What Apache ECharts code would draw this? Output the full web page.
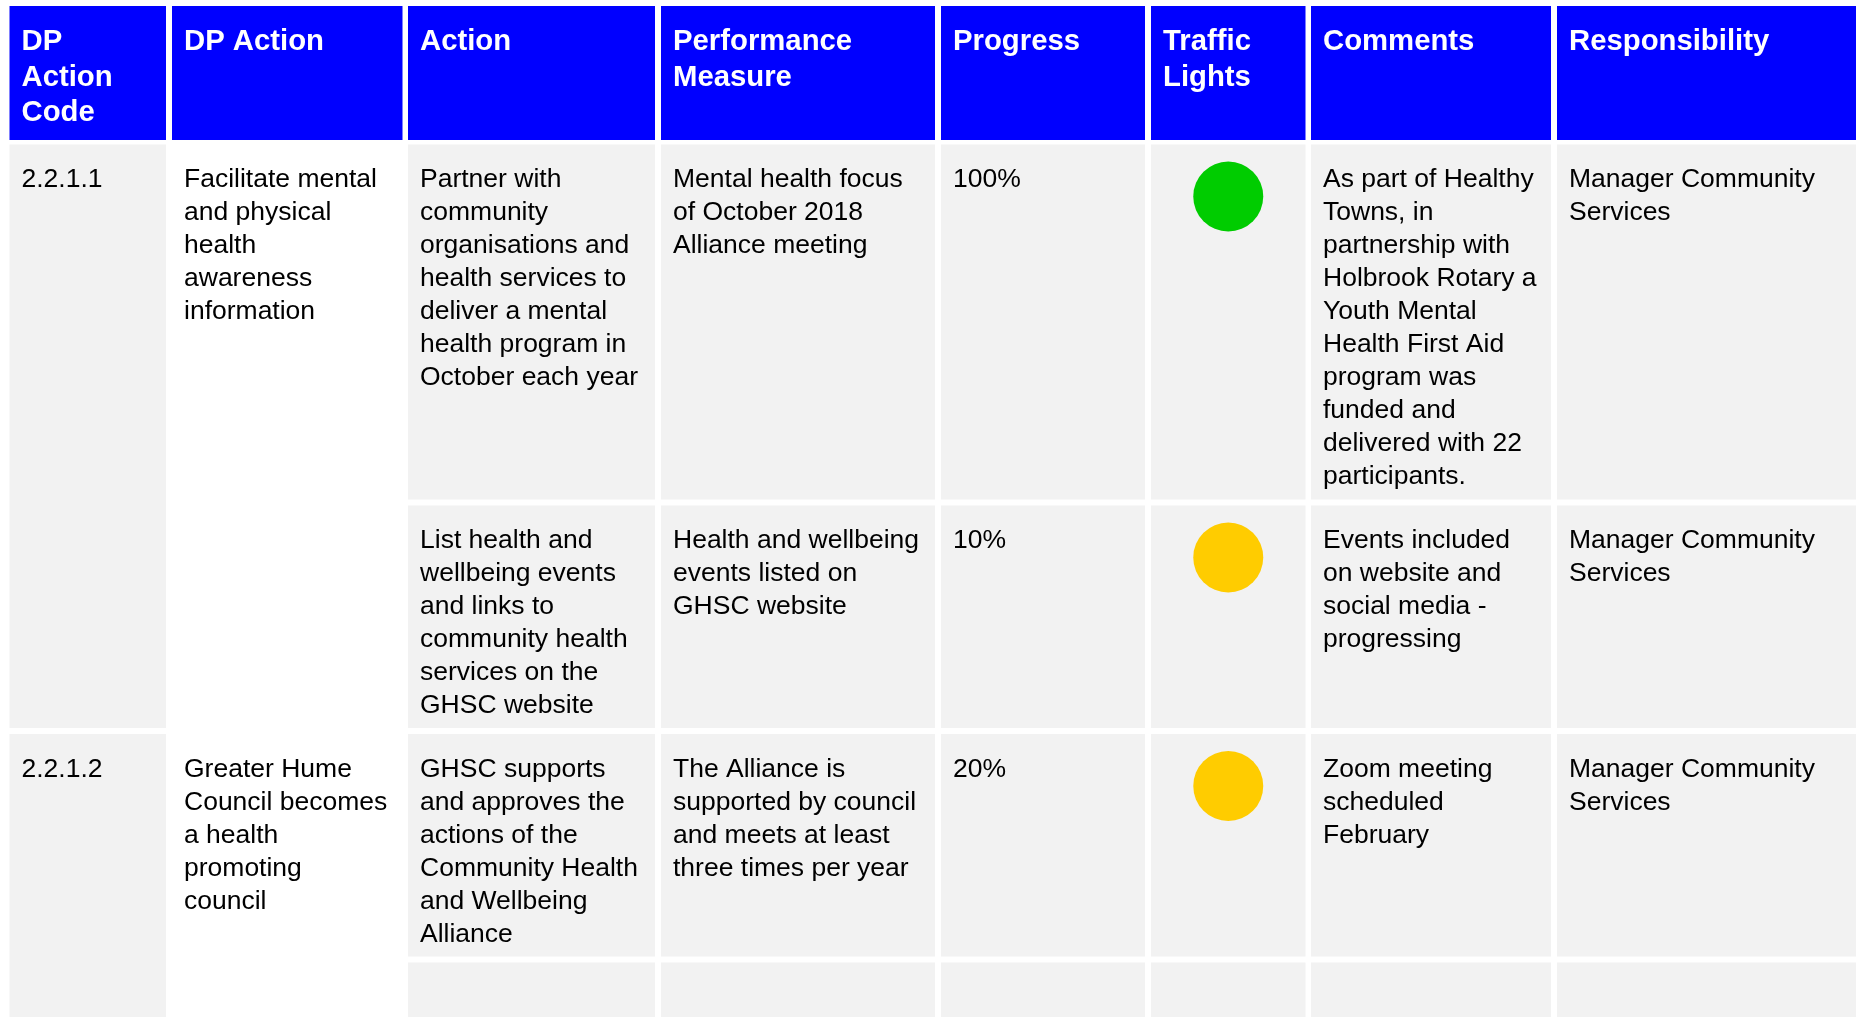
<!DOCTYPE html>
<html>
<head>
<meta charset="utf-8">
<script src="https://cdn.jsdelivr.net/npm/echarts@6/dist/echarts.min.js"></script>
<style>
html,body{margin:0;padding:0;background:#fff;}
#main{width:1856px;height:1017px;}
</style>
</head>
<body>
<div id="main"></div>
<script>
// ---- data ----
const headers = ['DP\nAction\nCode', 'DP Action', 'Action', 'Performance\nMeasure', 'Progress', 'Traffic\nLights', 'Comments', 'Responsibility'];
const codes = ['2.2.1.1', '2.2.1.2'];
const dpActions = ['Facilitate mental\nand physical\nhealth\nawareness\ninformation', 'Greater Hume\nCouncil becomes\na health\npromoting\ncouncil'];
const actions = ['Partner with\ncommunity\norganisations and\nhealth services to\ndeliver a mental\nhealth program in\nOctober each year',
  'List health and\nwellbeing events\nand links to\ncommunity health\nservices on the\nGHSC website',
  'GHSC supports\nand approves the\nactions of the\nCommunity Health\nand Wellbeing\nAlliance', ''];
const measures = ['Mental health focus\nof October 2018\nAlliance meeting', 'Health and wellbeing\nevents listed on\nGHSC website',
  'The Alliance is\nsupported by council\nand meets at least\nthree times per year', ''];
const progress = ['100%', '10%', '20%', ''];
const lights = ['green', 'amber', 'amber', null];
const comments = ['As part of Healthy\nTowns, in\npartnership with\nHolbrook Rotary a\nYouth Mental\nHealth First Aid\nprogram was\nfunded and\ndelivered with 22\nparticipants.',
  'Events included\non website and\nsocial media -\nprogressing', 'Zoom meeting\nscheduled\nFebruary', ''];
const responsibility = ['Manager Community\nServices', 'Manager Community\nServices', 'Manager Community\nServices', ''];
const codeRowSpans = [[0, 1], [2, 3]];

// ---- layout ----
const W = 1856, H = 1017;
const colEdges = [[9.5, 166], [172, 402.5], [408, 655], [661, 935], [941, 1145], [1151, 1305.5], [1311, 1551], [1557, 1856]];
const headerEdge = [6, 140];
const rowEdges = [[144.5, 499.5], [505.5, 728], [734, 956.5], [962.5, 1040]];
const lightColors = { green: '#00cc00', amber: '#ffcc00' };
const FONT = '"Liberation Sans", Arial, Helvetica, sans-serif';

const cells = [];
headers.forEach((h, c) => cells.push({ x0: colEdges[c][0], x1: colEdges[c][1], y0: headerEdge[0], y1: headerEdge[1], text: h, fill: '#0000ff', header: true }));
codes.forEach((code, i) => {
  const [r0, r1] = codeRowSpans[i];
  cells.push({ x0: colEdges[0][0], x1: colEdges[0][1], y0: rowEdges[r0][0], y1: rowEdges[r1][1], text: code, fill: '#f2f2f2' });
  cells.push({ x0: colEdges[1][0], x1: colEdges[1][1], y0: rowEdges[r0][0], y1: rowEdges[r1][1], text: dpActions[i], fill: '#ffffff' });
});
const rowCols = [actions, measures, progress, null, comments, responsibility];
for (let r = 0; r < rowEdges.length; r++) {
  rowCols.forEach((arr, k) => {
    const c = k + 2;
    cells.push({ x0: colEdges[c][0], x1: colEdges[c][1], y0: rowEdges[r][0], y1: rowEdges[r][1], text: arr ? arr[r] : '', fill: '#f2f2f2', light: arr ? null : lights[r] });
  });
}

const chart = echarts.init(document.getElementById('main'), null, { renderer: 'canvas' });
chart.setOption({
  animation: false,
  grid: { left: 0, right: 0, top: 0, bottom: 0 },
  xAxis: { type: 'value', min: 0, max: W, show: false },
  yAxis: { type: 'value', min: 0, max: H, inverse: true, show: false },
  series: [{
    type: 'custom',
    clip: true,
    data: cells.map(c => [c.x0, c.y0, c.x1, c.y1]),
    renderItem: function (params, api) {
      const c = cells[params.dataIndex];
      const p0 = api.coord([api.value(0), api.value(1)]);
      const p1 = api.coord([api.value(2), api.value(3)]);
      const children = [{
        type: 'rect',
        shape: { x: p0[0], y: p0[1], width: p1[0] - p0[0], height: p1[1] - p0[1] },
        style: { fill: c.fill }
      }];
      if (c.text) {
        children.push({
          type: 'text',
          style: c.header ? {
            text: c.text, x: p0[0] + 12, y: p0[1] + 18.5, fill: '#ffffff',
            font: 'bold 29.3px ' + FONT, lineHeight: 35.5, verticalAlign: 'top', align: 'left'
          } : {
            text: c.text, x: p0[0] + 12, y: p0[1] + 19, fill: '#000000',
            font: '26.5px ' + FONT, lineHeight: 33, verticalAlign: 'top', align: 'left'
          }
        });
      }
      if (c.light) {
        children.push({
          type: 'circle',
          shape: { cx: (p0[0] + p1[0]) / 2, cy: p0[1] + 52, r: 35 },
          style: { fill: lightColors[c.light] }
        });
      }
      return { type: 'group', children: children };
    }
  }]
});
</script>
</body>
</html>
